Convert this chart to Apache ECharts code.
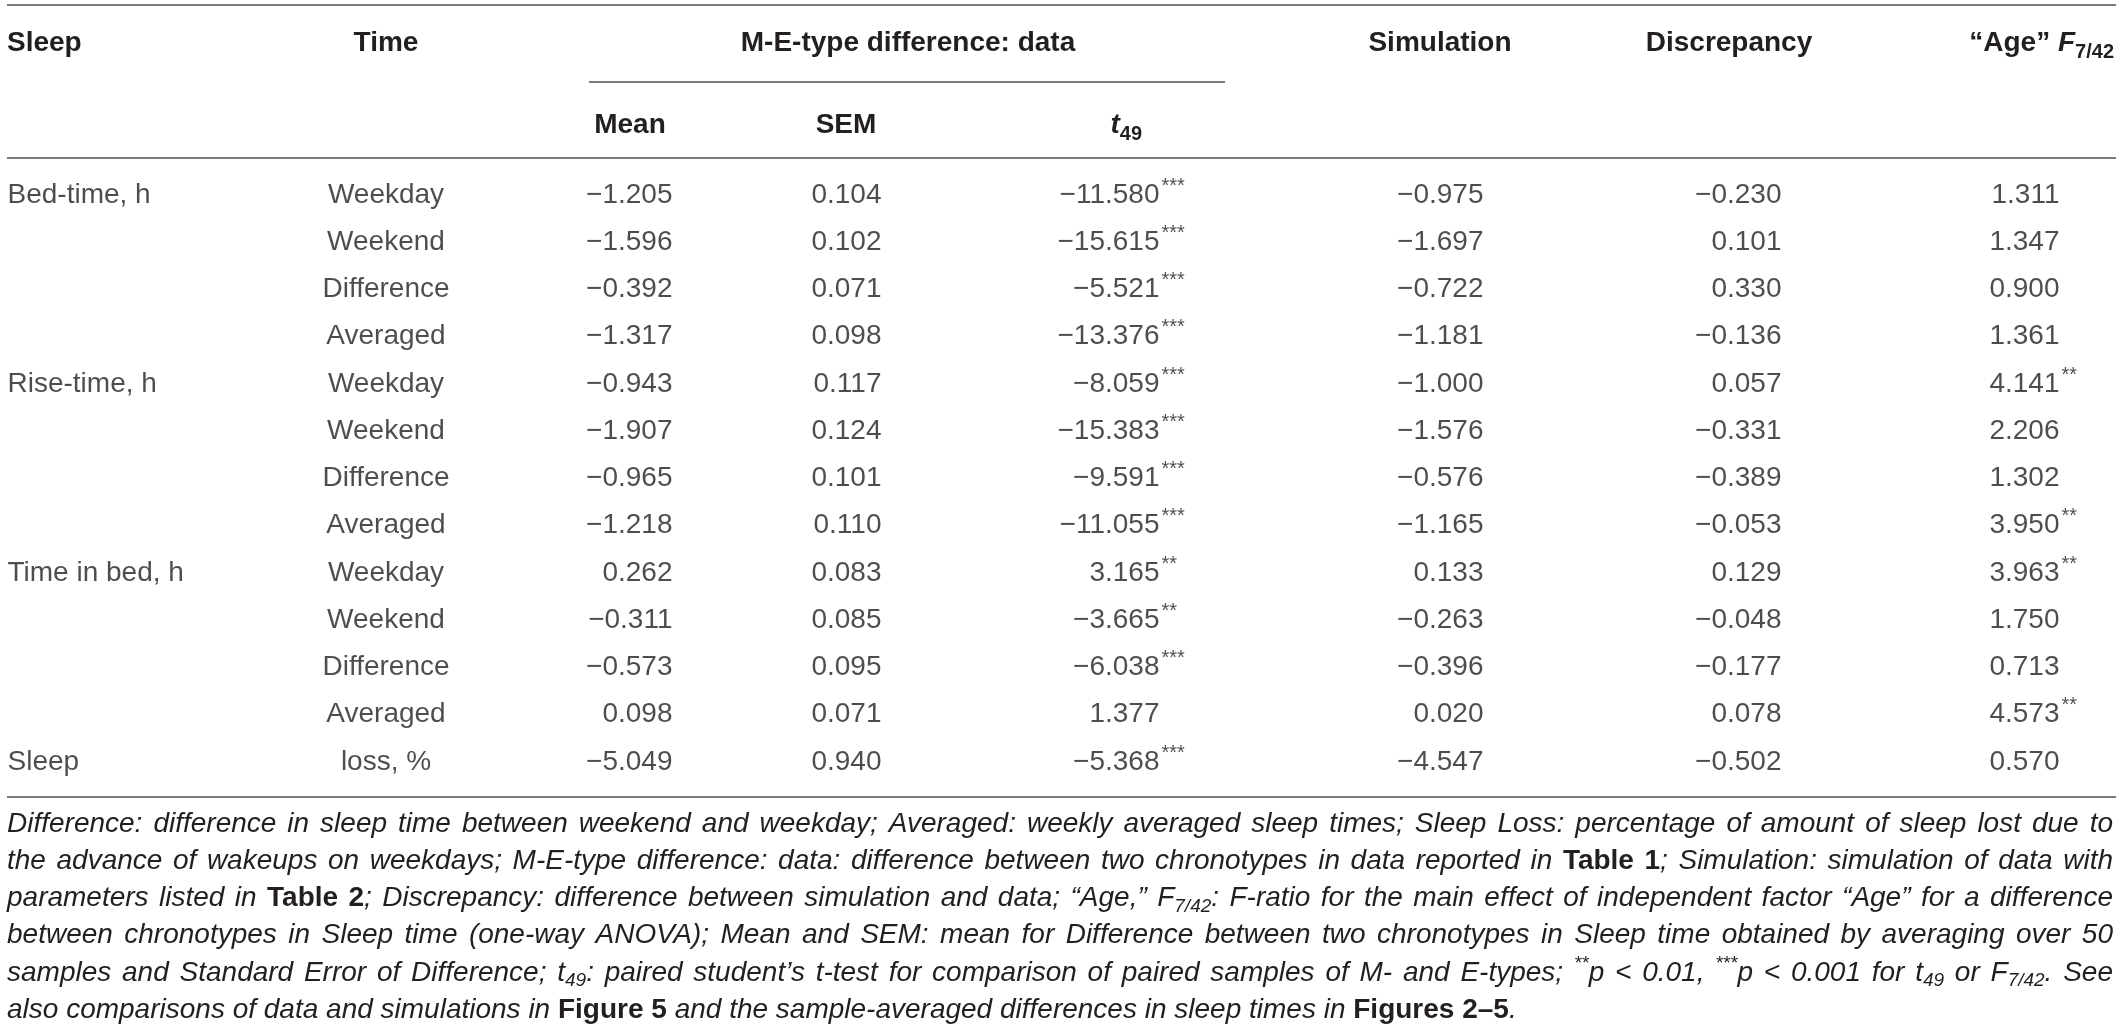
<!DOCTYPE html>
<html>
<head>
<meta charset="utf-8">
<title>Table 3</title>
<script src="https://cdn.jsdelivr.net/npm/echarts@6/dist/echarts.min.js"></script>
<style>
  html, body { margin: 0; padding: 0; background: #fff; }
  #chart { width: 2120px; height: 1033px; }
</style>
</head>
<body>
<div id="chart"></div>
<script>
// table content
var sleepLabels = ['Bed-time, h', '', '', '', 'Rise-time, h', '', '', '', 'Time in bed, h', '', '', '', 'Sleep'];
var timeLabels = ['Weekday', 'Weekend', 'Difference', 'Averaged',
                  'Weekday', 'Weekend', 'Difference', 'Averaged',
                  'Weekday', 'Weekend', 'Difference', 'Averaged', 'loss, %'];
var meanVals = [-1.205, -1.596, -0.392, -1.317, -0.943, -1.907, -0.965, -1.218, 0.262, -0.311, -0.573, 0.098, -5.049];
var semVals  = [0.104, 0.102, 0.071, 0.098, 0.117, 0.124, 0.101, 0.110, 0.083, 0.085, 0.095, 0.071, 0.940];
var tVals    = [-11.580, -15.615, -5.521, -13.376, -8.059, -15.383, -9.591, -11.055, 3.165, -3.665, -6.038, 1.377, -5.368];
var tSig     = ['***', '***', '***', '***', '***', '***', '***', '***', '**', '**', '***', '', '***'];
var simVals  = [-0.975, -1.697, -0.722, -1.181, -1.000, -1.576, -0.576, -1.165, 0.133, -0.263, -0.396, 0.020, -4.547];
var discVals = [-0.230, 0.101, 0.330, -0.136, 0.057, -0.331, -0.389, -0.053, 0.129, -0.048, -0.177, 0.078, -0.502];
var ageVals  = [1.311, 1.347, 0.900, 1.361, 4.141, 2.206, 1.302, 3.950, 3.963, 1.750, 0.713, 4.573, 0.570];
var ageSig   = ['', '', '', '', '**', '', '', '**', '**', '', '', '**', ''];

// footnote, one entry per printed line: [style, text]
var noteLines = [
  [['i', 'Difference: difference in sleep time between weekend and weekday; Averaged: weekly averaged sleep times; Sleep Loss: percentage of amount of sleep lost due to']],
  [['i', 'the advance of wakeups on weekdays; M-E-type difference: data: difference between two chronotypes in data reported in '], ['b', 'Table 1'], ['i', '; Simulation: simulation of data with']],
  [['i', 'parameters listed in '], ['b', 'Table 2'], ['i', '; Discrepancy: difference between simulation and data; \u201cAge,\u201d F'], ['sub', '7/42'], ['i', ': F-ratio for the main effect of independent factor \u201cAge\u201d for a difference']],
  [['i', 'between chronotypes in Sleep time (one-way ANOVA); Mean and SEM: mean for Difference between two chronotypes in Sleep time obtained by averaging over 50']],
  [['i', 'samples and Standard Error of Difference; t'], ['sub', '49'], ['i', ': paired student\u2019s t-test for comparison of paired samples of M- and E-types; '], ['sup', '**'], ['i', 'p < 0.01, '], ['sup', '***'], ['i', 'p < 0.001 for t'], ['sub', '49'], ['i', ' or F'], ['sub', '7/42'], ['i', '. See']],
  [['i', 'also comparisons of data and simulations in '], ['b', 'Figure 5'], ['i', ' and the sample-averaged differences in sleep times in '], ['b', 'Figures 2\u20135'], ['i', '.']]
];

var FONT = '"Liberation Sans", Arial, Helvetica, sans-serif';
var INK = '#231f20';
var RULE = '#7a7a7a';

var runStyles = {
  hb:   { size: 28, weight: 'bold', style: 'normal', dy: 0 },
  hbi:  { size: 28, weight: 'bold', style: 'italic', dy: 0 },
  hsub: { size: 20, weight: 'bold', style: 'normal', dy: 9 },
  i:    { size: 28, weight: 'normal', style: 'italic', dy: 0 },
  b:    { size: 28, weight: 'bold', style: 'normal', dy: 0 },
  sub:  { size: 19, weight: 'normal', style: 'italic', dy: 8 },
  sup:  { size: 19, weight: 'normal', style: 'italic', dy: -9 }
};

var measureCtx = document.createElement('canvas').getContext('2d');
function measure(text, st, k) {
  measureCtx.font = st.style + ' ' + st.weight + ' ' + (st.size * (k || 1)) + 'px ' + FONT;
  return measureCtx.measureText(text).width;
}

function textEl(text, x, y, st, align, k) {
  k = k || 1;
  return {
    type: 'text', x: x, y: y + st.dy * k, silent: true,
    style: {
      text: text, fill: INK, fontFamily: FONT, fontSize: st.size * k,
      fontWeight: st.weight, fontStyle: st.style,
      align: align || 'left', verticalAlign: 'middle'
    }
  };
}

// header made of several styled pieces, ending at rx
function headerRun(pieces, rx, y) {
  var total = 0;
  pieces.forEach(function (p) { total += measure(p[1], runStyles[p[0]]); });
  var x = rx - total;
  return pieces.map(function (p) {
    var st = runStyles[p[0]];
    var el = textEl(p[1], x, y, st);
    x += measure(p[1], st);
    return el;
  });
}

// footnote line split into words, justified between left and right
function noteLine(segs, y, left, right, justify) {
  var words = [[]];
  segs.forEach(function (seg) {
    seg[1].split(' ').forEach(function (part, n) {
      if (n > 0) words.push([]);
      if (part) words[words.length - 1].push({ st: seg[0], t: part });
    });
  });
  words = words.filter(function (w) { return w.length; });
  var k = 1, widths, gap;
  for (;;) {
    widths = words.map(function (w) {
      return w.reduce(function (s, p) { return s + measure(p.t, runStyles[p.st], k); }, 0);
    });
    var sum = widths.reduce(function (a, b) { return a + b; }, 0);
    gap = justify ? (right - left - sum) / (words.length - 1) : measure(' ', runStyles.i, k);
    if (gap >= 6 || k < 0.85) break;
    k -= 0.01;
  }
  var els = [];
  var x = left;
  words.forEach(function (w, n) {
    var px = x;
    w.forEach(function (p) {
      els.push(textEl(p.t, px, y, runStyles[p.st], 'left', k));
      px += measure(p.t, runStyles[p.st], k);
    });
    x += widths[n] + gap;
  });
  return els;
}

function fmt(v) {
  return v.toFixed(3).replace('-', '\u2212');
}

// column anchors (x in table units)
var colSleep = 7, colTime = 386;
var colMean = 673, colSem = 882, colT = 1160, colSim = 1484, colDisc = 1782, colAge = 2060;

function cellSeries(xAnchor, values, position, formatter, extra) {
  var label = Object.assign({
    show: true, position: position, distance: 0,
    fontFamily: FONT, fontSize: 28, color: INK,
    formatter: formatter
  }, extra || {});
  return {
    type: 'scatter', silent: true, symbolSize: 1,
    itemStyle: { color: 'rgba(0,0,0,0)' },
    data: values.map(function (v, i) { return [xAnchor, i, v]; }),
    label: label
  };
}

function numFmt(p) { return fmt(p.value[2]); }
function strFmt(p) { return p.value[2]; }

var rowIds = timeLabels.map(function (t, i) { return String(i); });

var chart = echarts.init(document.getElementById('chart'), null, { renderer: 'canvas' });

var graphics = [];
// rules
[[5, 7, 2116], [82, 589, 1225], [158, 7, 2116], [797, 7, 2116]].forEach(function (r) {
  graphics.push({ type: 'line', silent: true, shape: { x1: r[1], y1: r[0], x2: r[2], y2: r[0] },
                  style: { stroke: RULE, lineWidth: 2 } });
});
// header row 1
graphics.push(textEl('Sleep', colSleep, 43, runStyles.hb, 'left'));
graphics.push(textEl('Time', colTime, 43, runStyles.hb, 'center'));
graphics.push(textEl('M-E-type difference: data', 908, 43, runStyles.hb, 'center'));
graphics.push(textEl('Simulation', 1440, 43, runStyles.hb, 'center'));
graphics.push(textEl('Discrepancy', 1729, 43, runStyles.hb, 'center'));
graphics = graphics.concat(headerRun([['hb', '\u201cAge\u201d '], ['hbi', 'F'], ['hsub', '7/42']], 2114, 43));
// header row 2
graphics.push(textEl('Mean', 630, 125, runStyles.hb, 'center'));
graphics.push(textEl('SEM', 846, 125, runStyles.hb, 'center'));
graphics = graphics.concat(headerRun([['hbi', 't'], ['hsub', '49']], 1142, 125));
// footnote
noteLines.forEach(function (segs, n) {
  graphics = graphics.concat(noteLine(segs, 824 + n * 37.2, 7, 2113, n < noteLines.length - 1));
});

var supStyle = { fontSize: 20, offset: [1, -9] };

chart.setOption({
  animation: false,
  backgroundColor: '#fff',
  grid: { left: 0, right: 0, top: 195, bottom: 271, containLabel: false },
  xAxis: { type: 'value', min: 0, max: 2120, show: false },
  yAxis: { type: 'category', data: rowIds, inverse: true, boundaryGap: false, show: false },
  series: [
    cellSeries(colSleep, sleepLabels, 'right', strFmt),
    cellSeries(colTime, timeLabels, 'inside', strFmt),
    cellSeries(colMean, meanVals, 'left', numFmt),
    cellSeries(colSem, semVals, 'left', numFmt),
    cellSeries(colT, tVals, 'left', numFmt),
    cellSeries(colT, tSig, 'right', strFmt, supStyle),
    cellSeries(colSim, simVals, 'left', numFmt),
    cellSeries(colDisc, discVals, 'left', numFmt),
    cellSeries(colAge, ageVals, 'left', numFmt),
    cellSeries(colAge, ageSig, 'right', strFmt, supStyle)
  ],
  graphic: { elements: graphics }
});
</script>
</body>
</html>
